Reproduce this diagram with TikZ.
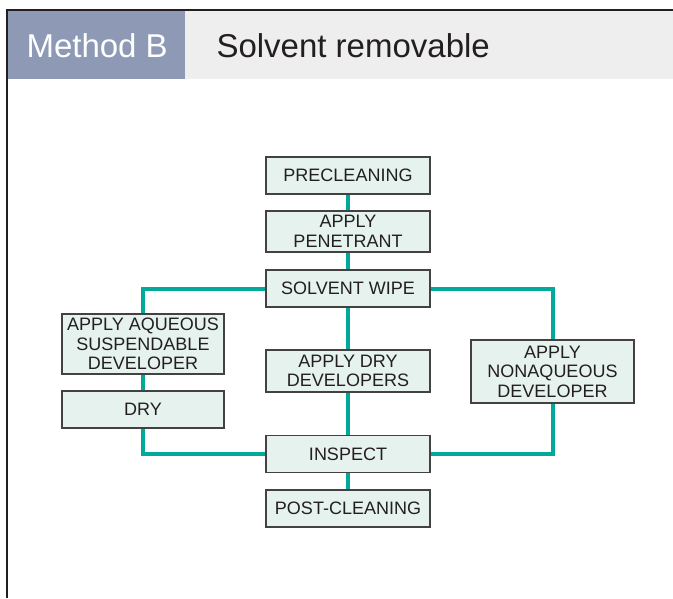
\documentclass[tikz,border=0pt]{standalone}
\usepackage{fontspec}
\setmainfont{Liberation Sans}
\definecolor{teal}{HTML}{00A99A}
\definecolor{boxfill}{HTML}{E6F2EE}
\definecolor{slate}{HTML}{8E9AB5}
\definecolor{band}{HTML}{EEEEEE}
\definecolor{ink}{HTML}{231F20}
\begin{document}
\begin{tikzpicture}[x=1pt,y=-1pt,
		box/.style={draw=ink!85,line width=1.4pt,fill=boxfill,minimum width=164pt,minimum height=37pt,inner sep=0pt,align=center,text=ink,font=\fontsize{18}{19.5}\selectfont},
		link/.style={draw=teal,line width=4pt}]
	\useasboundingbox (0,0) rectangle (673,598);
	\fill[band] (7,11) rectangle (673,79);
	\fill[slate] (7,11) rectangle (185,79);
	\draw[ink,line width=1.6pt] (6,10)--(673,10) (7,10)--(7,598);
	\node[anchor=west,text=white,font=\fontsize{33}{36}\selectfont] (meth) at (23,46) {Method B};
	\node[anchor=west,text=ink,font=\fontsize{33}{36}\selectfont] (ttl) at (213,46) {Solvent removable};
	\node[box] (pre) at (348,175.5) {PRECLEANING};
	\node[box,minimum height=41pt] (pen) at (348,231.5) {APPLY\\PENETRANT};
	\node[box] (wipe) at (348,288.5) {SOLVENT WIPE};
	\node[box,minimum width=162pt,minimum height=60pt] (aq) at (143,344) {APPLY AQUEOUS\\SUSPENDABLE\\DEVELOPER};
	\node[box,minimum width=162pt] (dry) at (143,409.5) {DRY};
	\node[box,minimum height=42pt] (ddev) at (348,371) {APPLY DRY\\DEVELOPERS};
	\node[box,minimum width=163pt,minimum height=63pt] (nonaq) at (552.5,371.5) {APPLY\\NONAQUEOUS\\DEVELOPER};
	\node[box] (insp) at (348,454) {INSPECT};
	\node[box] (post) at (348,508.5) {POST-CLEANING};
	\draw[link] (pre)--(pen);
	\draw[link] (pen)--(wipe);
	\draw[link] (wipe)--(ddev);
	\draw[link] (ddev)--(insp);
	\draw[link] (insp)--(post);
	\draw[link] (wipe.west)-|(aq.north);
	\draw[link] (aq)--(dry);
	\draw[link] (dry.south)|-(insp.west);
	\draw[link] (wipe.east)-|(nonaq.north);
	\draw[link] (nonaq.south)|-(insp.east);
\end{tikzpicture}
\end{document}
